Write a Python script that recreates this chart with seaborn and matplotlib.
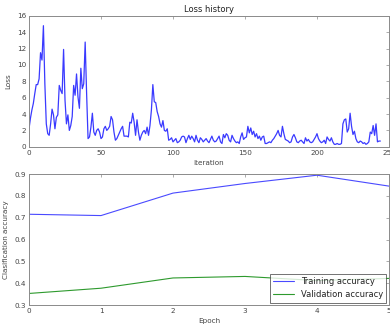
import numpy as np
import pandas as pd
import matplotlib
matplotlib.use("Agg")
import matplotlib.pyplot as plt
import seaborn as sns

# Per-iteration training loss
loss_history = [
    2.2, 3.5, 4.5, 5.3, 6.5, 7.6, 7.6, 8.3, 11.5, 10.6,
    14.8, 7.7, 2.8, 1.6, 1.4, 2.8, 4.6, 3.9, 2.2, 3.6,
    3.9, 7.5, 6.9, 6.5, 11.9, 5.7, 2.8, 3.9, 2.0, 2.6,
    3.7, 7.5, 6.3, 8.9, 6.1, 4.7, 9.6, 7.1, 7.7, 12.8,
    6.5, 1.0, 1.2, 2.4, 4.1, 1.8, 1.4, 2.0, 2.2, 1.8,
    1.0, 1.2, 2.2, 2.5, 2.0, 2.2, 2.5, 3.7, 3.3, 1.8,
    0.8, 1.0, 1.4, 1.8, 2.2, 2.5, 1.3, 1.3, 1.3, 1.2,
    3.0, 2.9, 4.1, 3.0, 1.4, 3.3, 1.8, 0.8, 1.4, 1.8,
    2.0, 1.6, 2.4, 1.4, 2.6, 4.5, 7.6, 5.5, 5.4, 4.3,
    3.7, 2.8, 2.4, 3.2, 2.0, 1.9, 2.2, 0.8, 0.9, 1.1,
    0.6, 0.8, 1.0, 0.5, 0.6, 0.8, 1.2, 1.3, 1.2, 0.5,
    1.0, 1.4, 0.9, 1.3, 1.0, 0.6, 1.4, 0.8, 0.5, 1.1,
    0.9, 0.6, 0.8, 1.0, 0.7, 0.5, 0.9, 1.3, 0.8, 0.6,
    0.7, 1.0, 1.3, 0.6, 0.4, 1.5, 1.1, 1.6, 1.4, 0.8,
    0.6, 1.4, 1.0, 0.7, 0.5, 0.6, 0.4, 1.2, 1.7, 0.9,
    1.1, 1.2, 2.5, 1.7, 2.3, 1.5, 1.9, 1.2, 1.6, 1.0,
    1.3, 0.8, 1.2, 1.3, 0.4, 0.4, 0.5, 0.6, 0.5, 0.8,
    1.0, 1.3, 1.6, 2.0, 1.4, 1.2, 2.5, 1.6, 0.9, 0.8,
    0.7, 0.5, 0.6, 1.2, 1.5, 1.1, 0.6, 0.5, 0.7, 0.8,
    0.6, 0.4, 1.1, 0.7, 0.9, 0.6, 0.5, 0.6, 0.9, 1.2,
    1.6, 1.0, 0.7, 0.5, 0.6, 0.8, 0.4, 1.2, 0.9, 0.7,
    1.1, 0.6, 0.3, 0.3, 0.4, 0.3, 0.3, 0.4, 2.8, 3.3,
    3.4, 1.8, 2.2, 4.1, 2.5, 1.5, 1.9, 1.0, 0.6, 0.5,
    0.7, 0.6, 0.4, 0.5, 0.3, 0.4, 0.6, 1.8, 1.6, 2.6,
    1.4, 2.8, 0.6, 0.7, 0.7,
]

# Per-epoch accuracy
epochs = [0, 1, 2, 3, 4, 5]
train_acc = [0.716, 0.710, 0.813, 0.857, 0.895, 0.845]
val_acc = [0.353, 0.377, 0.424, 0.431, 0.412, 0.422]

sns.set_style("white")
plt.rcParams["font.family"] = ["DejaVu Sans"]

spine_col = "#8a8a8a"
text_col = "#444444"
fs = 5.2

fig = plt.figure(figsize=(3.9, 3.24), dpi=100)
ax1 = fig.add_axes([0.0744, 0.547, 0.923, 0.404])
ax2 = fig.add_axes([0.0744, 0.0586, 0.923, 0.404])

loss_df = pd.DataFrame({"Iteration": np.arange(len(loss_history)), "Loss": loss_history})
sns.lineplot(data=loss_df, x="Iteration", y="Loss", ax=ax1, color="#3a3aff", linewidth=0.9)
ax1.set_xlim(0, 250)
ax1.set_ylim(0, 16)
ax1.set_xticks(range(0, 251, 50))
ax1.set_yticks(range(0, 17, 2))
ax1.set_title("Loss history", fontsize=6, color="#222222", pad=3)

acc_df = pd.DataFrame({
    "Epoch": epochs * 2,
    "acc": train_acc + val_acc,
    "series": ["Training accuracy"] * len(epochs) + ["Validation accuracy"] * len(epochs),
})
sns.lineplot(data=acc_df, x="Epoch", y="acc", hue="series", ax=ax2,
             palette=["#4a4aff", "#2e9a2e"], linewidth=0.8)
ax2.set_xlim(0, 5)
ax2.set_ylim(0.3, 0.9)
ax2.set_xticks(epochs)
ax2.set_yticks([0.3, 0.4, 0.5, 0.6, 0.7, 0.8, 0.9])
ax2.set_ylabel("Clasification accuracy")

leg = ax2.legend(loc="lower right", fontsize=6, frameon=True, fancybox=False,
                 handlelength=2.5, borderaxespad=0.3, borderpad=0.4)
leg.get_frame().set_edgecolor("#333333")
leg.get_frame().set_linewidth(0.6)
for t in leg.get_texts():
    t.set_color("#222222")

for ax in (ax1, ax2):
    for s in ax.spines.values():
        s.set_visible(True)
        s.set_color(spine_col)
        s.set_linewidth(0.7)
    ax.tick_params(direction="in", length=2.5, width=0.5, color=spine_col,
                   labelsize=fs, labelcolor=text_col, top=True, right=True, pad=2)
    ax.xaxis.label.set_size(fs)
    ax.yaxis.label.set_size(fs)
    ax.xaxis.label.set_color(text_col)
    ax.yaxis.label.set_color(text_col)
    ax.xaxis.labelpad = 3
    ax.yaxis.labelpad = 4
    ax.grid(False)

fig.savefig("out.png", dpi=100)
